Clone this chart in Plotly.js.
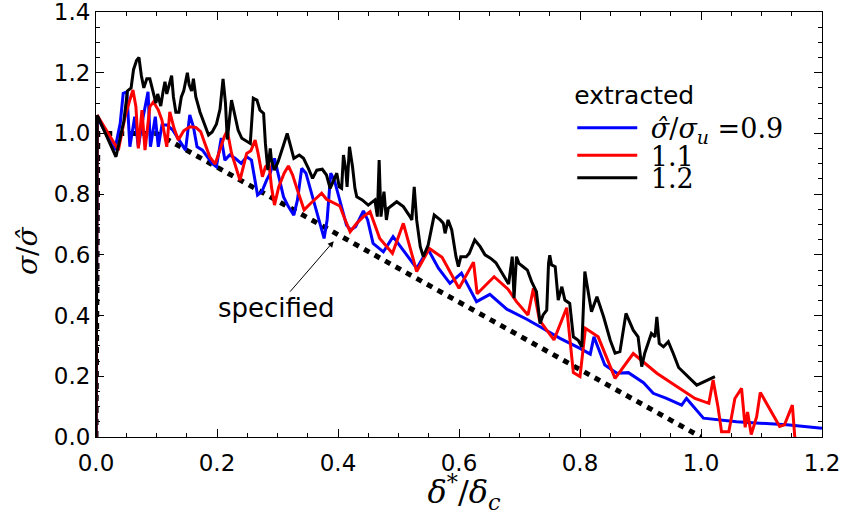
<!DOCTYPE html>
<html>
<head>
<meta charset="utf-8">
<script src="https://cdn.plot.ly/plotly-3.0.1.min.js"></script>
<style>html,body{margin:0;padding:0;background:#fff;}#chart{width:846px;height:515px;}</style>
</head>
<body>
<div id="chart"></div>
<script>
// specified traction-separation law
const specX = [0, 0.003, 0.1, 1.0];
const specY = [0, 1.0, 1.0, 0];

// extracted, sigma_hat/sigma_u = 0.9
const blueX = [0, 0.002, 0.031, 0.040, 0.045, 0.051, 0.056, 0.064, 0.070, 0.078, 0.086, 0.090, 0.098, 0.103, 0.109, 0.117, 0.127, 0.134, 0.140, 0.148, 0.155, 0.161, 0.167, 0.176, 0.184, 0.192, 0.199, 0.207, 0.213, 0.221, 0.230, 0.240, 0.249, 0.257, 0.267, 0.274, 0.282, 0.288, 0.295, 0.301, 0.310, 0.318, 0.327, 0.333, 0.340, 0.347, 0.354, 0.361, 0.369, 0.377, 0.382, 0.388, 0.394, 0.401, 0.407, 0.414, 0.421, 0.429, 0.442, 0.449, 0.458, 0.475, 0.491, 0.508, 0.530, 0.549, 0.566, 0.585, 0.604, 0.629, 0.651, 0.679, 0.712, 0.734, 0.767, 0.800, 0.817, 0.823, 0.841, 0.861, 0.880, 0.905, 0.921, 0.943, 0.968, 0.976, 1.004, 1.059, 1.142, 1.200];
const blueY = [0, 1.055, 0.945, 1.033, 1.132, 1.137, 0.956, 1.055, 0.956, 1.055, 1.137, 0.956, 1.055, 0.956, 1.028, 1.028, 1.011, 0.989, 0.967, 0.945, 1.061, 1.022, 0.956, 0.945, 0.923, 0.901, 0.890, 0.985, 0.912, 0.929, 0.918, 0.901, 0.923, 0.912, 0.797, 0.808, 0.846, 0.869, 0.918, 0.869, 0.791, 0.759, 0.731, 0.781, 0.885, 0.869, 0.819, 0.775, 0.720, 0.654, 0.715, 0.869, 0.846, 0.791, 0.748, 0.698, 0.682, 0.693, 0.745, 0.715, 0.638, 0.610, 0.660, 0.616, 0.556, 0.618, 0.556, 0.506, 0.540, 0.446, 0.470, 0.421, 0.388, 0.363, 0.325, 0.292, 0.273, 0.330, 0.237, 0.210, 0.212, 0.179, 0.144, 0.127, 0.105, 0.127, 0.062, 0.050, 0.040, 0.029];

// extracted, 1.1
const redX = [0, 0.002, 0.037, 0.048, 0.055, 0.061, 0.066, 0.070, 0.076, 0.081, 0.089, 0.095, 0.103, 0.109, 0.117, 0.122, 0.129, 0.136, 0.145, 0.155, 0.165, 0.173, 0.180, 0.188, 0.197, 0.205, 0.212, 0.217, 0.224, 0.238, 0.249, 0.256, 0.263, 0.268, 0.275, 0.280, 0.286, 0.290, 0.295, 0.302, 0.311, 0.318, 0.325, 0.332, 0.344, 0.355, 0.365, 0.373, 0.381, 0.390, 0.403, 0.412, 0.420, 0.431, 0.442, 0.453, 0.469, 0.490, 0.508, 0.530, 0.551, 0.572, 0.600, 0.624, 0.630, 0.658, 0.681, 0.695, 0.714, 0.723, 0.733, 0.745, 0.757, 0.778, 0.789, 0.800, 0.809, 0.830, 0.858, 0.888, 0.927, 0.965, 0.990, 1.013, 1.020, 1.028, 1.034, 1.046, 1.056, 1.067, 1.073, 1.077, 1.083, 1.092, 1.098, 1.130, 1.138, 1.151, 1.155];
const redY = [0, 1.06, 0.945, 1.055, 1.104, 1.143, 1.088, 0.951, 1.077, 0.945, 1.088, 1.104, 1.077, 1.044, 0.956, 1.071, 1.017, 0.978, 1.009, 1.022, 1.020, 1.006, 0.967, 0.923, 0.899, 0.945, 0.989, 1.009, 0.935, 0.846, 0.934, 0.943, 0.978, 0.934, 0.857, 0.890, 0.901, 0.824, 0.764, 0.824, 0.869, 0.893, 0.863, 0.819, 0.748, 0.770, 0.789, 0.803, 0.783, 0.775, 0.761, 0.715, 0.676, 0.704, 0.726, 0.742, 0.654, 0.605, 0.704, 0.545, 0.621, 0.592, 0.490, 0.576, 0.472, 0.528, 0.487, 0.446, 0.402, 0.490, 0.385, 0.352, 0.320, 0.426, 0.212, 0.199, 0.358, 0.330, 0.193, 0.275, 0.210, 0.160, 0.127, 0.111, 0.188, 0.100, 0.017, 0.017, 0.127, 0.160, 0.032, 0.082, 0.008, 0.067, 0.147, 0.035, 0.040, 0.105, 0.0];

// extracted, 1.2
const blackX = [0, 0.002, 0.033, 0.046, 0.052, 0.058, 0.062, 0.067, 0.071, 0.075, 0.079, 0.084, 0.089, 0.095, 0.099, 0.102, 0.107, 0.111, 0.114, 0.117, 0.121, 0.125, 0.128, 0.132, 0.137, 0.141, 0.145, 0.151, 0.154, 0.158, 0.161, 0.165, 0.172, 0.179, 0.186, 0.192, 0.199, 0.205, 0.210, 0.214, 0.217, 0.224, 0.230, 0.235, 0.241, 0.249, 0.255, 0.260, 0.266, 0.271, 0.277, 0.280, 0.284, 0.288, 0.290, 0.295, 0.301, 0.310, 0.316, 0.322, 0.327, 0.336, 0.343, 0.351, 0.358, 0.365, 0.374, 0.381, 0.387, 0.393, 0.398, 0.402, 0.406, 0.409, 0.413, 0.415, 0.419, 0.424, 0.428, 0.431, 0.440, 0.450, 0.461, 0.465, 0.468, 0.471, 0.476, 0.480, 0.483, 0.497, 0.508, 0.519, 0.522, 0.526, 0.530, 0.536, 0.541, 0.549, 0.559, 0.569, 0.574, 0.577, 0.582, 0.588, 0.595, 0.599, 0.603, 0.612, 0.617, 0.626, 0.635, 0.643, 0.652, 0.661, 0.671, 0.682, 0.688, 0.691, 0.695, 0.699, 0.706, 0.713, 0.720, 0.728, 0.734, 0.739, 0.745, 0.748, 0.750, 0.753, 0.759, 0.764, 0.770, 0.775, 0.783, 0.789, 0.797, 0.803, 0.808, 0.814, 0.819, 0.828, 0.839, 0.850, 0.858, 0.866, 0.876, 0.888, 0.896, 0.902, 0.907, 0.918, 0.924, 0.927, 0.931, 0.938, 0.946, 0.954, 0.963, 0.993, 1.023];
const blackY = [0, 1.06, 0.923, 1.04, 1.14, 1.15, 1.21, 1.24, 1.25, 1.19, 1.15, 1.18, 1.18, 1.13, 1.10, 1.13, 1.09, 1.14, 1.17, 1.13, 1.16, 1.19, 1.12, 1.07, 1.07, 1.12, 1.14, 1.20, 1.16, 1.14, 1.18, 1.12, 1.07, 1.03, 0.995, 1.005, 1.03, 1.08, 1.18, 1.10, 0.98, 1.11, 1.055, 1.01, 0.984, 0.973, 0.967, 1.116, 1.11, 1.077, 1.066, 0.967, 0.879, 0.951, 0.912, 0.879, 0.907, 0.962, 1.0, 0.956, 0.918, 0.929, 0.918, 0.885, 0.852, 0.879, 0.882, 0.863, 0.819, 0.846, 0.869, 0.824, 0.819, 0.929, 0.879, 0.824, 0.956, 0.890, 0.819, 0.791, 0.781, 0.764, 0.781, 0.726, 0.912, 0.726, 0.808, 0.715, 0.753, 0.775, 0.759, 0.726, 0.715, 0.824, 0.715, 0.627, 0.594, 0.632, 0.731, 0.715, 0.704, 0.671, 0.715, 0.682, 0.594, 0.561, 0.594, 0.594, 0.605, 0.649, 0.627, 0.600, 0.589, 0.574, 0.539, 0.504, 0.594, 0.457, 0.594, 0.572, 0.561, 0.550, 0.512, 0.479, 0.374, 0.402, 0.418, 0.572, 0.599, 0.567, 0.561, 0.451, 0.495, 0.451, 0.440, 0.330, 0.319, 0.297, 0.545, 0.473, 0.413, 0.462, 0.396, 0.319, 0.276, 0.281, 0.407, 0.352, 0.330, 0.232, 0.276, 0.341, 0.330, 0.396, 0.308, 0.297, 0.314, 0.276, 0.229, 0.171, 0.199];

const NB = '\u00a0';
const ZW = '\u200b';
const legendLabels = [NB + '<i>σ̂</i>/<i>σ<sub>u</sub></i> =0.9', NB + '1.1', NB + '1.2'];
const legendTitle = 'extracted';
const xTitle = ZW + NB + '<i>δ</i><sup>*</sup>/<i>δ<sub>c</sub></i>';
const yTitle = '<i>σ</i>/<i>σ̂</i>' + NB + NB + NB + NB + NB + NB + ZW;
const xTickVals = [0, 0.2, 0.4, 0.6, 0.8, 1.0, 1.2];
const xTickText = ['0.0', '0.2', '0.4', '0.6', '0.8', '1.0', '1.2'];
const yTickVals = [0, 0.2, 0.4, 0.6, 0.8, 1.0, 1.2, 1.4];
const yTickText = ['0.0', '0.2', '0.4', '0.6', '0.8', '1.0', '1.2', '1.4'];

const traces = [
  {x: specX, y: specY, mode: 'lines', line: {color: '#000', width: 5, dash: '6px,6px'}, showlegend: false, hoverinfo: 'skip'},
  {x: blueX, y: blueY, mode: 'lines', name: legendLabels[0], legend: 'legend', line: {color: '#0000ff', width: 3}},
  {x: redX, y: redY, mode: 'lines', name: legendLabels[1], legend: 'legend2', line: {color: '#ff0000', width: 3}},
  {x: blackX, y: blackY, mode: 'lines', name: legendLabels[2], legend: 'legend3', line: {color: '#000000', width: 3}}
];

const axisCommon = {
  showgrid: false, zeroline: false, showline: true, linecolor: '#000', linewidth: 1,
  mirror: 'allticks', ticks: 'inside', ticklen: 8, tickwidth: 1, tickcolor: '#000',
  ticklabeloverflow: 'allow',
  tickfont: {family: 'DejaVu Sans', size: 23, color: '#000'},
  minor: {dtick: 0.05, ticks: 'inside', ticklen: 4, tickwidth: 1, tickcolor: '#000', showgrid: false}
};

const legendFont = {family: 'DejaVu Serif', size: 27, color: '#000'};
const legendCommon = {xanchor: 'left', bgcolor: 'rgba(0,0,0,0)', borderwidth: 0, itemwidth: 60, font: legendFont};

const layout = {
  width: 846, height: 515,
  margin: {l: 96, r: 24, t: 12, b: 78},
  paper_bgcolor: '#fff', plot_bgcolor: '#fff',
  xaxis: Object.assign({}, axisCommon, {
    range: [0, 1.2], tickvals: xTickVals, ticktext: xTickText, ticklabelstandoff: 5,
    title: {text: xTitle, font: {family: 'DejaVu Serif', size: 32, color: '#000'}, standoff: 6}
  }),
  yaxis: Object.assign({}, axisCommon, {
    range: [0, 1.4], tickvals: yTickVals, ticktext: yTickText,
    title: {text: yTitle, font: {family: 'DejaVu Serif', size: 28, color: '#000'}, standoff: 8}
  }),
  legend: Object.assign({}, legendCommon, {
    x: 0.656, y: 0.861, yanchor: 'top',
    title: {text: legendTitle, side: 'top', font: {family: 'DejaVu Sans', size: 25, color: '#000'}}
  }),
  legend2: Object.assign({}, legendCommon, {x: 0.656, y: 0.662, yanchor: 'middle'}),
  legend3: Object.assign({}, legendCommon, {x: 0.656, y: 0.609, yanchor: 'middle'}),
  annotations: [{
    x: 0.393, y: 0.645, xref: 'x', yref: 'y',
    text: 'specified', showarrow: true, arrowhead: 2, arrowsize: 1.2, arrowwidth: 1, arrowcolor: '#000',
    ax: -58, ay: 67, font: {family: 'DejaVu Sans', size: 26, color: '#000'}
  }]
};

Plotly.newPlot('chart', traces, layout, {displayModeBar: false, staticPlot: true});
</script>
</body>
</html>
